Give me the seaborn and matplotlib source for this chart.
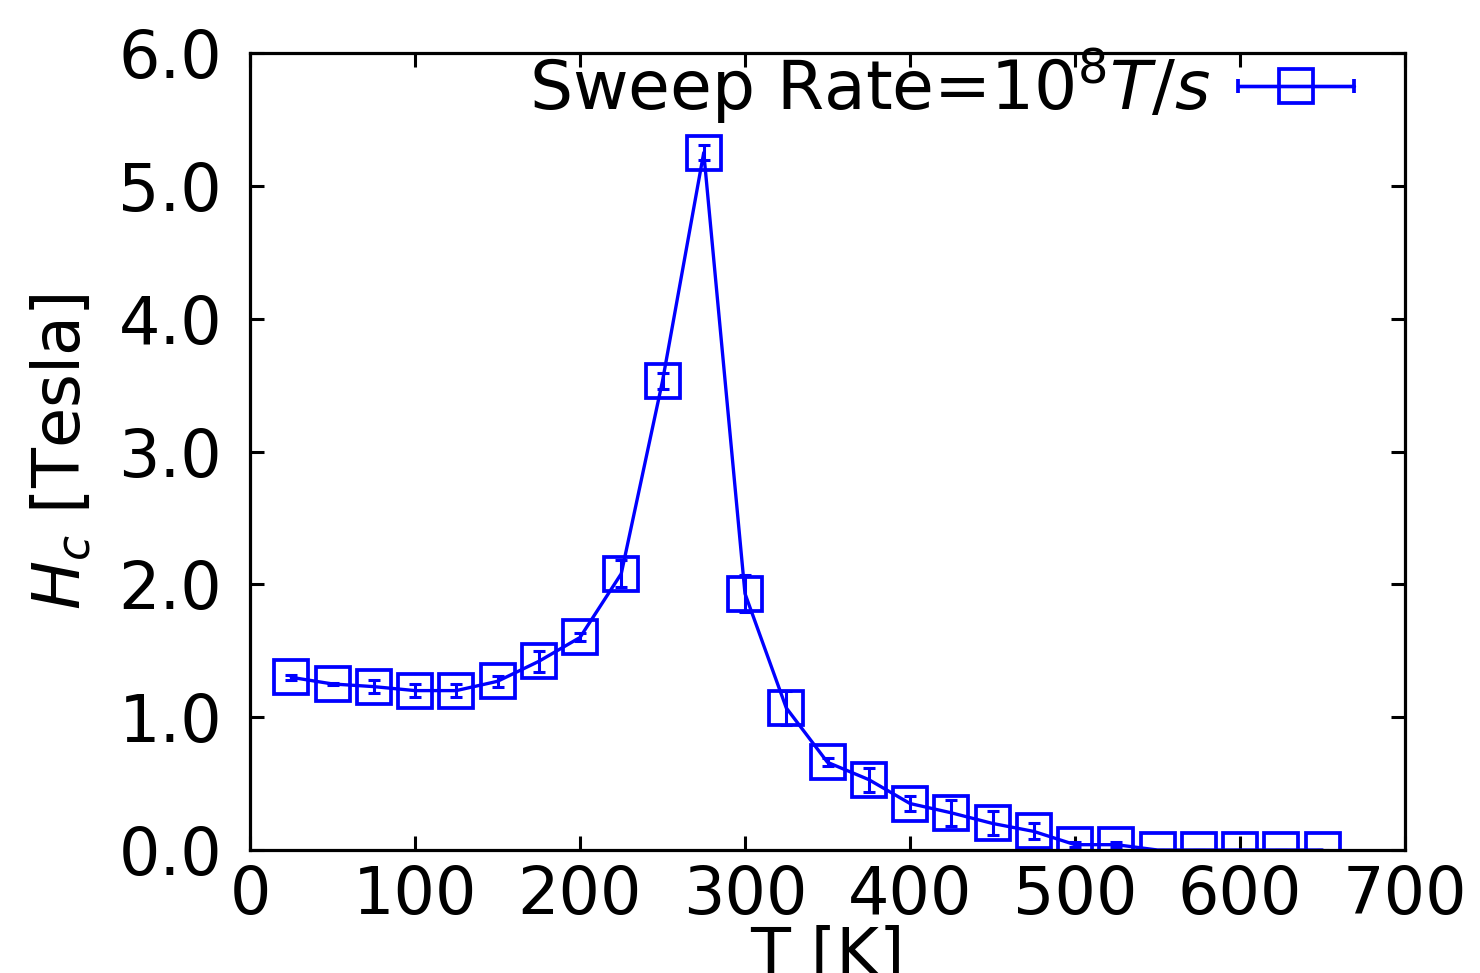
import numpy as np
import pandas as pd
import matplotlib
matplotlib.use("Agg")
import matplotlib.pyplot as plt
from matplotlib.legend_handler import HandlerErrorbar
import seaborn as sns

# ---- data ----
temps = [25, 50, 75, 100, 125, 150, 175, 200, 225, 250, 275, 300, 325, 350,
         375, 400, 425, 450, 475, 500, 525, 550, 575, 600, 625, 650]
hc = [1.30, 1.25, 1.23, 1.20, 1.20, 1.27, 1.42, 1.60, 2.08, 3.53, 5.25, 1.93,
      1.07, 0.66, 0.53, 0.35, 0.28, 0.20, 0.14, 0.04, 0.04, 0.00, 0.00, 0.00,
      0.00, 0.00]
hc_err = [0.02, 0.01, 0.05, 0.05, 0.05, 0.04, 0.08, 0.03, 0.10, 0.06, 0.055,
          0.14, 0.13, 0.03, 0.09, 0.06, 0.10, 0.09, 0.06, 0.02, 0.02, 0.0,
          0.0, 0.0, 0.0, 0.0]
legend_label = r"Sweep Rate=$10^8T/s$"
x_ticks = [0, 100, 200, 300, 400, 500, 600, 700]
y_ticks = [0.0, 1.0, 2.0, 3.0, 4.0, 5.0, 6.0]

df = pd.DataFrame({"T": temps, "Hc": hc, "err": hc_err})

sns.set_style("ticks")
plt.rcParams['font.family'] = ['DejaVu Sans']
plt.rcParams['mathtext.fontset'] = 'dejavusans'
plt.rcParams['text.color'] = 'black'
plt.rcParams['axes.labelcolor'] = 'black'
plt.rcParams['xtick.color'] = 'black'
plt.rcParams['ytick.color'] = 'black'

fig = plt.figure(figsize=(14.8, 9.73), dpi=100)
ax = fig.add_axes([250 / 1480, 1 - 850 / 973, 1155 / 1480, 797 / 973])

blue = "#0000ff"
sns.lineplot(data=df, x="T", y="Hc", ax=ax, color=blue, linewidth=2.4,
             marker="s", markersize=24, markerfacecolor="none",
             markeredgecolor=blue, markeredgewidth=2.7, legend=False,
             errorbar=None)
ax.errorbar(df["T"], df["Hc"], yerr=df["err"], fmt="none", ecolor=blue,
            elinewidth=2.2, capsize=4, capthick=2.2)

# legend proxy (horizontal bar with caps, square marker); its own artists
# are removed after the legend copies their style
proxy = ax.errorbar(df["T"], df["Hc"], xerr=np.zeros(len(temps)), fmt="s-",
                    color=blue, linewidth=2.4, markersize=24,
                    markerfacecolor="none", markeredgecolor=blue,
                    markeredgewidth=2.7, elinewidth=2.4, capsize=5,
                    capthick=2.4, label=legend_label)
leg = ax.legend(handles=[proxy], loc="upper right", frameon=False,
                markerfirst=False, fontsize=49, handlelength=1.7,
                handletextpad=0.4, borderaxespad=0.2,
                bbox_to_anchor=(0.991, 1.06),
                handler_map={type(proxy): HandlerErrorbar(xerr_size=0.85)})
for child in proxy.get_children():
    child.remove()

ax.set_xlim(0, 700)
ax.set_ylim(0, 6)
ax.set_xticks(x_ticks)
ax.set_yticks(y_ticks)
ax.set_yticklabels([f"{v:.1f}" for v in y_ticks])
ax.tick_params(axis="both", which="major", direction="in", length=10,
               width=2.2, labelsize=47, top=True, right=True)
ax.tick_params(axis="x", pad=10)
ax.tick_params(axis="y", pad=20)
for s in ax.spines.values():
    s.set_visible(True)
    s.set_linewidth(2.3)
    s.set_color("black")

ax.set_xlabel("T [K]", fontsize=47, labelpad=-2)
ax.set_ylabel(r"$H_c$ [Tesla]", fontsize=47, labelpad=17)

fig.savefig("out.png", dpi=100)
